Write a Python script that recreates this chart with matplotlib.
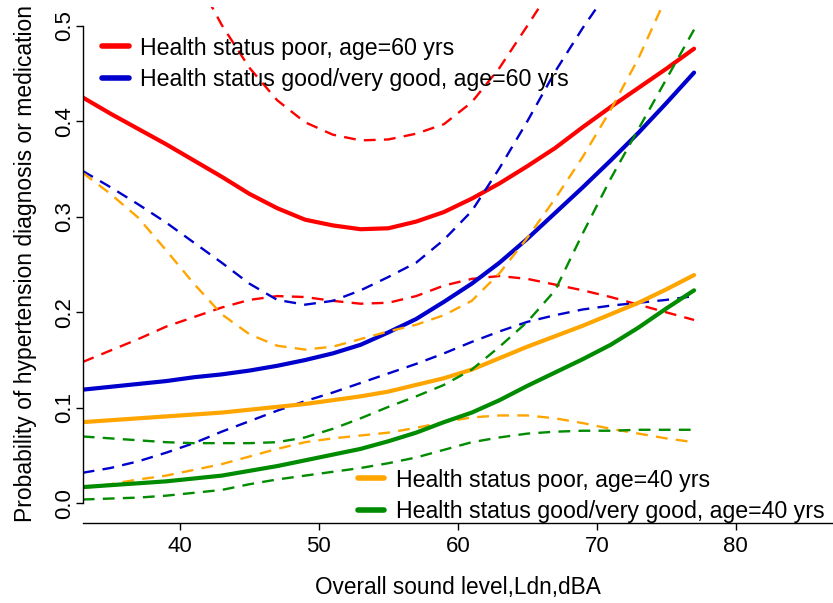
import numpy as np
import matplotlib
matplotlib.use("Agg")
import matplotlib.pyplot as plt
from matplotlib.lines import Line2D

plt.rcParams['font.family'] = ['Liberation Sans', 'DejaVu Sans']

nan = np.nan

# Overall sound level (Ldn, dBA)
level = [33, 35, 37, 39, 41, 43, 45, 47, 49, 51, 53, 55,
         57, 59, 61, 63, 65, 67, 69, 71, 73, 75, 77]

# Health status poor, age 60
poor60 = [0.425, 0.408, 0.392, 0.376, 0.359, 0.342, 0.324, 0.309, 0.297, 0.291, 0.287, 0.288,
          0.295, 0.305, 0.319, 0.335, 0.353, 0.372, 0.394, 0.415, 0.435, 0.455, 0.476]
poor60_lo = [0.148, 0.160, 0.172, 0.185, 0.195, 0.205, 0.213, 0.217, 0.216, 0.212, 0.209, 0.210,
             0.217, 0.228, 0.235, 0.238, 0.235, 0.229, 0.223, 0.216, 0.208, 0.200, 0.192]
poor60_hi = [nan, nan, nan, nan, 0.555, 0.501, 0.456, 0.422, 0.399, 0.386, 0.380, 0.381,
             0.387, 0.397, 0.420, 0.456, 0.500, 0.545, nan, nan, nan, nan, nan]

# Health status good/very good, age 60
good60 = [0.119, 0.122, 0.125, 0.128, 0.132, 0.135, 0.139, 0.144, 0.150, 0.157, 0.166, 0.179,
          0.193, 0.211, 0.230, 0.252, 0.277, 0.304, 0.331, 0.359, 0.388, 0.419, 0.451]
good60_lo = [0.032, 0.037, 0.044, 0.053, 0.063, 0.075, 0.086, 0.097, 0.107, 0.116, 0.126, 0.136,
             0.146, 0.157, 0.169, 0.180, 0.190, 0.197, 0.203, 0.207, 0.210, 0.213, 0.217]
good60_hi = [0.348, 0.331, 0.313, 0.294, 0.273, 0.252, 0.230, 0.213, 0.208, 0.212, 0.223, 0.237,
             0.252, 0.276, 0.306, 0.351, 0.400, 0.452, 0.498, 0.540, nan, nan, nan]

# Health status poor, age 40
poor40 = [0.085, 0.087, 0.089, 0.091, 0.093, 0.095, 0.098, 0.101, 0.104, 0.108, 0.112, 0.117,
          0.124, 0.131, 0.140, 0.152, 0.164, 0.175, 0.186, 0.198, 0.210, 0.224, 0.239]
poor40_lo = [0.016, 0.020, 0.025, 0.029, 0.035, 0.041, 0.049, 0.057, 0.064, 0.068, 0.071, 0.074,
             0.079, 0.085, 0.090, 0.092, 0.092, 0.089, 0.084, 0.078, 0.073, 0.068, 0.064]
poor40_hi = [0.346, 0.324, 0.299, 0.265, 0.230, 0.198, 0.177, 0.165, 0.161, 0.164, 0.172, 0.180,
             0.187, 0.197, 0.212, 0.241, 0.278, 0.319, 0.363, 0.412, 0.466, 0.530, nan]

# Health status good/very good, age 40
good40 = [0.017, 0.019, 0.021, 0.023, 0.026, 0.029, 0.034, 0.039, 0.045, 0.051, 0.057, 0.065,
          0.074, 0.085, 0.095, 0.108, 0.123, 0.137, 0.151, 0.166, 0.184, 0.204, 0.223]
good40_lo = [0.004, 0.005, 0.006, 0.008, 0.011, 0.014, 0.020, 0.025, 0.029, 0.033, 0.037, 0.042,
             0.048, 0.056, 0.064, 0.069, 0.073, 0.075, 0.076, 0.076, 0.077, 0.077, 0.077]
good40_hi = [0.070, 0.068, 0.066, 0.064, 0.063, 0.063, 0.063, 0.064, 0.069, 0.078, 0.089, 0.101,
             0.112, 0.124, 0.140, 0.164, 0.190, 0.223, 0.283, 0.340, 0.392, 0.444, 0.496]

labels_60 = ["Health status poor, age=60 yrs", "Health status good/very good, age=60 yrs"]
labels_40 = ["Health status poor, age=40 yrs", "Health status good/very good, age=40 yrs"]

RED, BLUE, ORANGE, GREEN = "#FF0000", "#0000CD", "#FFA500", "#008B00"
SOLID_LW, DASH_LW = 3.0, 1.7
DASH = (0, (5.0, 3.5))

fig = plt.figure(figsize=(8.33, 6.03), dpi=100)
ax = fig.add_axes([0.0993, 0.1322, 0.9007, 0.8567])

series = [
    (poor60, poor60_lo, poor60_hi, RED),
    (good60, good60_lo, good60_hi, BLUE),
    (poor40, poor40_lo, poor40_hi, ORANGE),
    (good40, good40_lo, good40_hi, GREEN),
]
for mid, lo, hi, col in series:
    ax.plot(level, mid, color=col, lw=SOLID_LW, solid_capstyle='round', solid_joinstyle='round')
    ax.plot(level, lo, color=col, lw=DASH_LW, ls=DASH)
    ax.plot(level, hi, color=col, lw=DASH_LW, ls=DASH)

ax.set_xlim(33, 87)
ax.set_ylim(-0.0209, 0.52)

for s in ("top", "right"):
    ax.spines[s].set_visible(False)
ax.spines["left"].set_bounds(0, 0.5)
for s in ("left", "bottom"):
    ax.spines[s].set_linewidth(1.0)

ax.set_xticks([40, 50, 60, 70, 80], ["40", "50", "60", "70", "80"])
yt = [0.0, 0.1, 0.2, 0.3, 0.4, 0.5]
ax.set_yticks(yt, [f"{v:.1f}" for v in yt], rotation=90, va="center")
ax.tick_params(axis="both", direction="out", length=5, width=1.0, labelsize=16)
ax.tick_params(axis="x", pad=4)
ax.tick_params(axis="y", pad=0.5)

fig.text(458 / 833, 1 - 594 / 603, "Overall sound level,Ldn,dBA", fontsize=16.3,
         ha="center", va="baseline")
fig.text(31.7 / 833, 1 - 263 / 603, "Probability of hypertension diagnosis or medication",
         fontsize=16.5, rotation=90, rotation_mode="anchor", ha="center", va="baseline")

def make_handles(cols):
    return [Line2D([], [], color=c, lw=4, solid_capstyle='round') for c in cols]

LEG_FS = 16.7
leg1 = ax.legend(make_handles([RED, BLUE]), labels_60, loc="upper left",
                 bbox_to_anchor=(102 / 833, 1 - 36.5 / 603), bbox_transform=fig.transFigure,
                 frameon=False, fontsize=LEG_FS, borderpad=0, borderaxespad=0,
                 handlelength=1.15, handletextpad=0.5, labelspacing=0.36)
ax.add_artist(leg1)
ax.legend(make_handles([ORANGE, GREEN]), labels_40, loc="upper left",
          bbox_to_anchor=(357.7 / 833, 1 - 468.5 / 603), bbox_transform=fig.transFigure,
          frameon=False, fontsize=LEG_FS, borderpad=0, borderaxespad=0,
          handlelength=1.15, handletextpad=0.5, labelspacing=0.36)

fig.savefig("out.png", dpi=100)
